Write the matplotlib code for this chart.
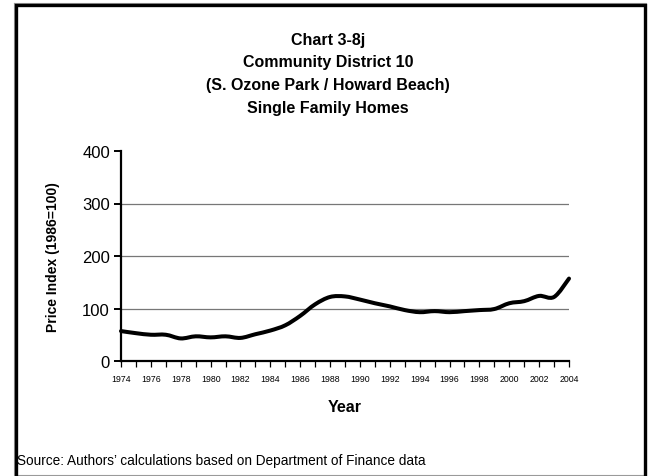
import matplotlib
matplotlib.use("Agg")
import matplotlib.pyplot as plt
from matplotlib.path import Path
from matplotlib.patches import PathPatch
from matplotlib.lines import Line2D
import numpy as np

plt.rcParams['font.family'] = ['Liberation Sans', 'DejaVu Sans']

# Price index, single family homes, Community District 10
years = list(range(1974, 2005))
price_index = [57, 53, 50, 50, 43, 47, 45, 47, 44, 51, 58, 68, 86, 108, 122,
               123, 117, 110, 104, 97, 93, 95, 93, 95, 97, 99, 110, 114, 124,
               122, 157]

title_lines = ["Chart 3-8j", "Community District 10",
               "(S. Ozone Park / Howard Beach)", "Single Family Homes"]
y_ticks = [0, 100, 200, 300, 400]
x_tick_labels = list(range(1974, 2005, 2))
source_note = "Source: Authors\u2019 calculations based on Department of Finance data"

W, H = 652, 477
fig = plt.figure(figsize=(W / 100, H / 100), dpi=100)
fig.patch.set_facecolor("white")


def fx(px):
    return px / W


def fy(py):
    return 1 - py / H


# outer page outline and black chart frame
fig.add_artist(Line2D([fx(14), fx(646), fx(646), fx(14), fx(14)],
                      [fy(4), fy(4), fy(476), fy(476), fy(4)],
                      color="#9a9a9a", lw=0.8, transform=fig.transFigure))
fig.add_artist(Line2D([fx(15.5), fx(15.5), fx(644.5), fx(644.5)],
                      [fy(477), fy(6), fy(6), fy(477)],
                      color="black", lw=2.4, transform=fig.transFigure,
                      solid_joinstyle="miter"))

ax = fig.add_axes([fx(121), fy(362), fx(569) - fx(121), fy(152) - fy(362)])
ax.set_xlim(1974, 2004)
ax.set_ylim(0, 400)

# smoothed line (Catmull-Rom segments as cubic Bezier curves)
xs = np.array(years, dtype=float)
ys = np.array(price_index, dtype=float)
n = len(xs)
verts = [(xs[0], ys[0])]
codes = [Path.MOVETO]
for i in range(n - 1):
    x0, y0 = (xs[i - 1], ys[i - 1]) if i > 0 else (xs[i], ys[i])
    x1, y1 = xs[i], ys[i]
    x2, y2 = xs[i + 1], ys[i + 1]
    x3, y3 = (xs[i + 2], ys[i + 2]) if i + 2 < n else (xs[i + 1], ys[i + 1])
    c1 = (x1 + (x2 - x0) / 6, y1 + (y2 - y0) / 6)
    c2 = (x2 - (x3 - x1) / 6, y2 - (y3 - y1) / 6)
    verts += [c1, c2, (x2, y2)]
    codes += [Path.CURVE4] * 3
ax.add_patch(PathPatch(Path(verts, codes), facecolor="none", edgecolor="black",
                       lw=2.9, capstyle="round", joinstyle="round", zorder=3,
                       clip_on=False))

ax.set_yticks(y_ticks)
ax.set_yticklabels([str(v) for v in y_ticks], fontsize=12)
ax.set_xticks(years)
ax.set_xticklabels([str(y) if y in x_tick_labels else "" for y in years],
                   fontsize=6.3)

for v in y_ticks[1:-1]:
    ax.axhline(v, color="#777777", lw=0.9, zorder=1)

for side in ("top", "right"):
    ax.spines[side].set_visible(False)
for side in ("left", "bottom"):
    ax.spines[side].set_linewidth(1.6)
    ax.spines[side].set_color("black")
ax.tick_params(axis="y", direction="out", length=5, width=1.4, pad=3)
ax.tick_params(axis="x", direction="out", length=4, width=0.9, pad=5)

ax.set_ylabel("Price Index (1986=100)", fontsize=10, fontweight="bold",
              labelpad=16)
ax.set_xlabel("Year", fontsize=11.5, fontweight="bold", labelpad=12)

for i, line in enumerate(title_lines):
    fig.text(fx(328), fy(40 + i * 22.8), line, ha="center", va="center",
             fontsize=11.5, fontweight="bold")

fig.text(fx(17), fy(461), source_note, ha="left", va="center", fontsize=9.8)

fig.savefig("out.png", dpi=100, facecolor="white")
